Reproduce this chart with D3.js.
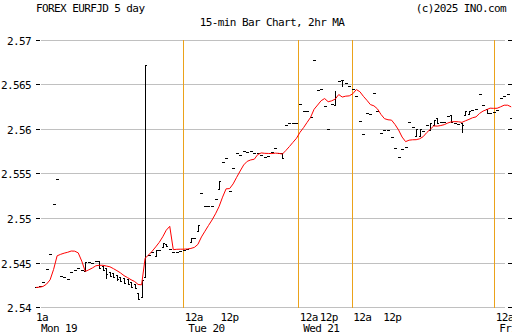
<!DOCTYPE html>
<html><head><meta charset="utf-8">
<script src="https://cdn.jsdelivr.net/npm/d3@7"></script>
<style>
html,body{margin:0;padding:0;background:#fff;overflow:hidden}
svg text{font-family:"DejaVu Sans Mono",monospace;font-size:11px;letter-spacing:-0.6px;fill:#000}
</style>
</head><body>
<svg id="chart" width="512" height="335"></svg>
<script>
// 15-minute OHLC bars, one entry per bar (index = bar number)
const open = [
2.54235,2.54246,2.54291,2.54437,2.54604,2.55164,2.55444,2.54358,2.54341,2.54325,
2.54403,2.54425,2.54448,2.54425,2.54414,2.54507,2.54500,2.54526,2.54526,2.54470,
2.54448,2.54403,2.54392,2.54369,2.54347,2.54336,2.54325,2.54291,2.54269,2.54168,
2.54123,2.54347,2.54593,2.54619,2.54582,2.54641,2.54683,2.54716,2.54660,2.54624,
2.54624,2.54630,2.54649,2.54657,2.54731,2.54780,2.54865,2.55291,2.55142,2.55142,
2.55142,2.55217,2.55329,2.55631,2.55676,2.55312,2.55564,2.55732,2.55713,2.55761,
2.55750,2.55757,2.55738,2.55732,2.55713,2.55694,2.55702,2.55750,2.55788,2.55738,
2.55735,2.56056,2.56068,2.56068,2.56068,2.56284,2.56205,2.56205,2.56135,2.56784,
2.56448,2.56459,2.56261,2.56000,2.56284,2.56280,2.56544,2.56560,2.56527,2.56485,
2.56452,2.56377,2.56093,2.55948,2.56186,2.56172,2.56415,2.56211,2.55956,2.55993,
2.55993,2.55918,2.55788,2.55687,2.55777,2.55799,2.56085,2.56029,2.55929,2.55929,
2.55981,2.56049,2.55993,2.56049,2.56130,2.56082,2.56079,2.56149,2.56160,2.56068,
2.56060,2.56068,2.56160,2.56179,2.56224,2.56228,2.56396,2.56280,2.56235,2.56186,
2.56194,2.56216,2.56354,2.56373,2.56396,2.56127];
const high = [
2.54235,2.54246,2.54291,2.54437,2.54604,2.55164,2.55444,2.54358,2.54341,2.54325,
2.54403,2.54425,2.54448,2.54425,2.54515,2.54507,2.54500,2.54526,2.54526,2.54470,
2.54448,2.54403,2.54392,2.54369,2.54347,2.54336,2.54325,2.54291,2.54269,2.54168,
2.54313,2.56720,2.54593,2.54619,2.54649,2.54641,2.54728,2.54716,2.54660,2.54624,
2.54624,2.54630,2.54649,2.54657,2.54780,2.54780,2.54929,2.55291,2.55142,2.55142,
2.55142,2.55217,2.55425,2.55631,2.55676,2.55312,2.55564,2.55732,2.55713,2.55761,
2.55750,2.55757,2.55738,2.55732,2.55713,2.55694,2.55702,2.55750,2.55788,2.55738,
2.55735,2.56056,2.56068,2.56068,2.56068,2.56284,2.56205,2.56205,2.56135,2.56784,
2.56448,2.56459,2.56261,2.56000,2.56284,2.56432,2.56544,2.56560,2.56527,2.56485,
2.56452,2.56377,2.56093,2.55948,2.56186,2.56172,2.56415,2.56211,2.55956,2.55993,
2.55993,2.55918,2.55788,2.55687,2.55777,2.55799,2.56085,2.56029,2.56000,2.56000,
2.55981,2.56049,2.56074,2.56104,2.56130,2.56082,2.56079,2.56149,2.56160,2.56068,
2.56060,2.56068,2.56209,2.56209,2.56224,2.56228,2.56396,2.56280,2.56235,2.56186,
2.56194,2.56216,2.56354,2.56373,2.56396,2.56127];
const low = [
2.54235,2.54246,2.54291,2.54437,2.54604,2.55164,2.55444,2.54358,2.54341,2.54325,
2.54403,2.54425,2.54448,2.54425,2.54414,2.54507,2.54500,2.54526,2.54448,2.54425,
2.54336,2.54358,2.54347,2.54313,2.54302,2.54280,2.54269,2.54235,2.54224,2.54090,
2.54123,2.54347,2.54593,2.54619,2.54582,2.54641,2.54683,2.54686,2.54660,2.54624,
2.54624,2.54630,2.54649,2.54657,2.54731,2.54780,2.54865,2.55291,2.55142,2.55142,
2.55142,2.55217,2.55329,2.55631,2.55676,2.55312,2.55564,2.55732,2.55713,2.55761,
2.55750,2.55757,2.55738,2.55732,2.55713,2.55694,2.55702,2.55750,2.55788,2.55738,
2.55676,2.56056,2.56068,2.56068,2.56068,2.56284,2.56205,2.56205,2.56135,2.56784,
2.56448,2.56459,2.56261,2.56000,2.56284,2.56280,2.56544,2.56485,2.56527,2.56485,
2.56452,2.56377,2.56093,2.55948,2.56186,2.56172,2.56415,2.56211,2.55956,2.55993,
2.55993,2.55918,2.55788,2.55687,2.55777,2.55799,2.56085,2.56029,2.55929,2.55929,
2.55981,2.56049,2.55993,2.56049,2.56068,2.56082,2.56079,2.56149,2.56085,2.56068,
2.56060,2.55973,2.56160,2.56179,2.56224,2.56228,2.56396,2.56280,2.56186,2.56186,
2.56194,2.56216,2.56354,2.56373,2.56396,2.56127];
const close = [
2.54235,2.54246,2.54291,2.54437,2.54604,2.55164,2.55444,2.54358,2.54341,2.54325,
2.54403,2.54425,2.54448,2.54425,2.54515,2.54507,2.54500,2.54526,2.54448,2.54425,
2.54381,2.54358,2.54347,2.54325,2.54302,2.54280,2.54269,2.54235,2.54224,2.54090,
2.54313,2.56720,2.54593,2.54619,2.54649,2.54641,2.54728,2.54686,2.54660,2.54624,
2.54624,2.54630,2.54649,2.54657,2.54780,2.54780,2.54929,2.55291,2.55142,2.55142,
2.55142,2.55217,2.55425,2.55631,2.55676,2.55312,2.55564,2.55732,2.55713,2.55761,
2.55750,2.55757,2.55738,2.55732,2.55713,2.55694,2.55702,2.55750,2.55788,2.55738,
2.55676,2.56056,2.56068,2.56068,2.56068,2.56284,2.56205,2.56205,2.56135,2.56784,
2.56448,2.56459,2.56261,2.56000,2.56284,2.56362,2.56544,2.56560,2.56527,2.56485,
2.56452,2.56377,2.56093,2.55948,2.56186,2.56172,2.56415,2.56211,2.55956,2.55993,
2.55993,2.55918,2.55788,2.55687,2.55777,2.55799,2.56085,2.56029,2.56000,2.56000,
2.55981,2.56049,2.56074,2.56104,2.56068,2.56082,2.56079,2.56149,2.56085,2.56068,
2.56060,2.56049,2.56209,2.56209,2.56224,2.56228,2.56396,2.56280,2.56186,2.56186,
2.56194,2.56216,2.56354,2.56373,2.56396,2.56127];
// closes of the bars just before the window, used to seed the moving average
const priorClose = [2.54224,2.54224,2.54224,2.54224,2.54224,2.54224,2.54224];
const maBars = 8; // 2 hours of 15-minute bars

const yTicks = [2.54, 2.545, 2.55, 2.555, 2.56, 2.565, 2.57];
const yTickLabels = ["2.54", "2.545", "2.55", "2.555", "2.56", "2.565", "2.57"];
const dayBreaks = [41.85, 74.5, 89.7, 130.2];
const hourTicks = [0, 41.85, 52, 74.5, 80.2, 89.7, 98.2, 130.2];
const hourLabels = ["1a", "12a", "12p", "12a", "12p", "12a", "12p", "12a"];
const dayTicks = [0, 41.85, 74.5, 130.2];
const dayLabels = ["Mon 19", "Tue 20", "Wed 21", "Fri 23"];

const svg = d3.select("#chart");
const x = d3.scaleLinear().domain([0, 135]).range([36, 511.2]);
const y = d3.scaleLinear().domain([2.54, 2.57]).range([307.5, 40.5]);
const row = v => Math.floor(y(v));

// horizontal grid + tick marks on both sides
const grid = svg.append("g");
yTicks.forEach((t, k) => {
  const r = row(t) + 0.5;
  grid.append("line").attr("x1", 41).attr("x2", 505).attr("y1", r).attr("y2", r)
    .attr("stroke", "#c0c0c0").attr("stroke-width", 1);
  grid.append("line").attr("x1", 36).attr("x2", 40).attr("y1", r).attr("y2", r)
    .attr("stroke", "#000").attr("stroke-width", 1);
  grid.append("line").attr("x1", 508).attr("x2", 512).attr("y1", r).attr("y2", r)
    .attr("stroke", "#000").attr("stroke-width", 1);
  grid.append("text").attr("x", 31).attr("y", r + 4).attr("text-anchor", "end")
    .text(yTickLabels[k]);
});

// day separators
svg.append("g").selectAll("line").data(dayBreaks).join("line")
  .attr("x1", d => Math.round(x(d)) + 0.5).attr("x2", d => Math.round(x(d)) + 0.5)
  .attr("y1", row(2.57)).attr("y2", row(2.54) + 1)
  .attr("stroke", "#eba21a").attr("stroke-width", 1);

// OHLC bars
const idx = d3.range(close.length);
const bars = svg.append("g").attr("fill", "#000");
idx.forEach(i => {
  const px = Math.round(x(i));
  const yh = Math.round(y(high[i])), yl = Math.round(y(low[i]));
  bars.append("rect").attr("x", px).attr("y", yh).attr("width", 1).attr("height", yl - yh + 1);
  bars.append("rect").attr("x", px - 1).attr("y", Math.round(y(open[i]))).attr("width", 1).attr("height", 1);
  bars.append("rect").attr("x", px + 1).attr("y", Math.round(y(close[i]))).attr("width", 1).attr("height", 1);
});

// moving average of closes
const series = priorClose.concat(close);
const ma = idx.map(i => d3.mean(series.slice(i + priorClose.length - maBars + 1, i + priorClose.length + 1)));
svg.append("path").datum(ma)
  .attr("fill", "none").attr("stroke", "#ff0000").attr("stroke-width", 1)
  .attr("d", d3.line().x((d, i) => x(i)).y(d => y(d)));

// x-axis labels
svg.append("g").selectAll("text").data(hourTicks).join("text")
  .attr("x", (d, i) => i === 0 ? x(d) : x(d) + 1.5).attr("y", 321).text((d, i) => hourLabels[i]);
svg.append("g").selectAll("text").data(dayTicks).join("text")
  .attr("x", d => x(d) + 5).attr("y", 332).text((d, i) => dayLabels[i]);

// headings
svg.append("text").attr("x", 36).attr("y", 12).text("FOREX EURFJD 5 day");
svg.append("text").attr("x", 506).attr("y", 12).attr("text-anchor", "end").text("(c)2025 INO.com");
svg.append("text").attr("x", 272).attr("y", 26).attr("text-anchor", "middle").text("15-min Bar Chart, 2hr MA");
</script>
</body></html>
